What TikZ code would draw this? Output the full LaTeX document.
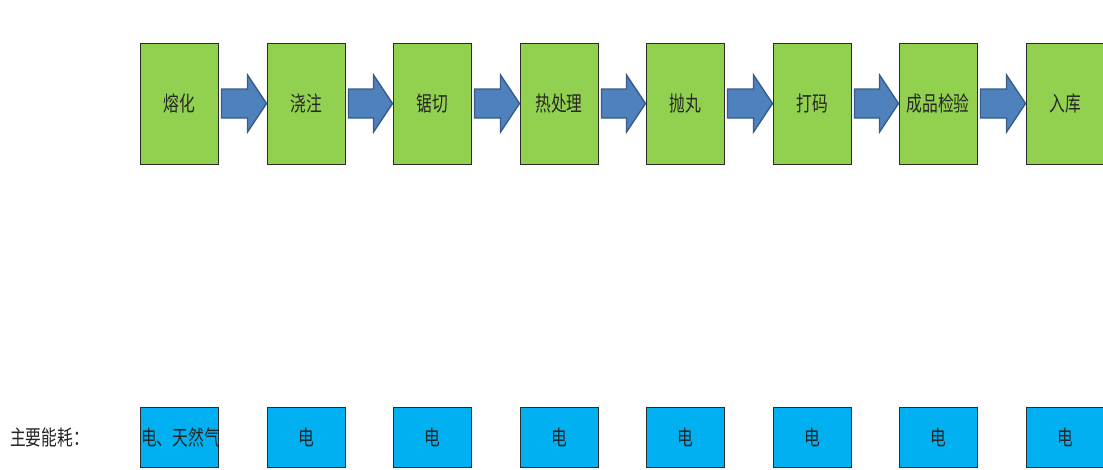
\documentclass[tikz,border=0pt]{standalone}
\usepackage{fontspec}
\newfontfamily\cjk[FakeStretch=0.75]{Noto Sans CJK SC}
\usetikzlibrary{calc}
\definecolor{stepgreen}{HTML}{92D050}
\definecolor{energyblue}{HTML}{00B0F0}
\definecolor{arrowfill}{HTML}{4F81BD}
\definecolor{arrowline}{HTML}{385D8A}
\definecolor{boxline}{HTML}{2B2B2B}
\tikzset{
  stepbox/.style={draw=boxline, line width=1pt, fill=stepgreen, minimum width=78pt, minimum height=121pt, inner sep=0pt, font=\cjk\fontsize{21}{23}\selectfont, text=black!85},
  energybox/.style={draw=boxline, line width=1pt, fill=energyblue, minimum width=78pt, minimum height=60pt, inner sep=0pt, font=\cjk\fontsize{21}{23}\selectfont, text=black!85},
  blockarrow/.style={draw=arrowline, line width=1.4pt, fill=arrowfill, line join=miter},
  labeltext/.style={font=\cjk\fontsize{21}{23}\selectfont, text=black!85, inner sep=0pt, anchor=west}
}
\newcommand{\flowarrow}[2]{%
  \draw[blockarrow] ($(#1.east)+(3,-14.5)$) -- ($(#2.west)+(-19,-14.5)$) -- ($(#2.west)+(-19,-28.5)$) -- (#2.west) -- ($(#2.west)+(-19,28.5)$) -- ($(#2.west)+(-19,14.5)$) -- ($(#1.east)+(3,14.5)$) -- cycle;}
\begin{document}
\begin{tikzpicture}[x=1pt,y=-1pt]
\useasboundingbox[fill=white] (0,0) rectangle (1103,469);
\begin{scope}
\clip (0,0) rectangle (1103,469);
\node[stepbox] (s1) at (179,103.5) {熔化};
\node[stepbox] (s2) at (306,103.5) {浇注};
\node[stepbox] (s3) at (432,103.5) {锯切};
\node[stepbox] (s4) at (559,103.5) {热处理};
\node[stepbox] (s5) at (685,103.5) {抛丸};
\node[stepbox] (s6) at (812,103.5) {打码};
\node[stepbox] (s7) at (938,103.5) {成品检验};
\node[stepbox] (s8) at (1065,103.5) {入库};
\flowarrow{s1}{s2}
\flowarrow{s2}{s3}
\flowarrow{s3}{s4}
\flowarrow{s4}{s5}
\flowarrow{s5}{s6}
\flowarrow{s6}{s7}
\flowarrow{s7}{s8}
\node[labeltext] (lbl) at (10,437) {主要能耗：};
\node[energybox] (e1) at (179,437) {};
\begin{scope}
\clip (140,407) rectangle (218,467);
\node[font=\cjk\fontsize{21}{23}\selectfont, text=black!85, inner sep=0pt, anchor=west] (e1t) at (141,437) {电、天然气};
\end{scope}
\node[energybox] (e2) at (306,437) {电};
\node[energybox] (e3) at (432,437) {电};
\node[energybox] (e4) at (559,437) {电};
\node[energybox] (e5) at (685,437) {电};
\node[energybox] (e6) at (812,437) {电};
\node[energybox] (e7) at (938,437) {电};
\node[energybox] (e8) at (1065,437) {电};
\end{scope}
\end{tikzpicture}
\end{document}
